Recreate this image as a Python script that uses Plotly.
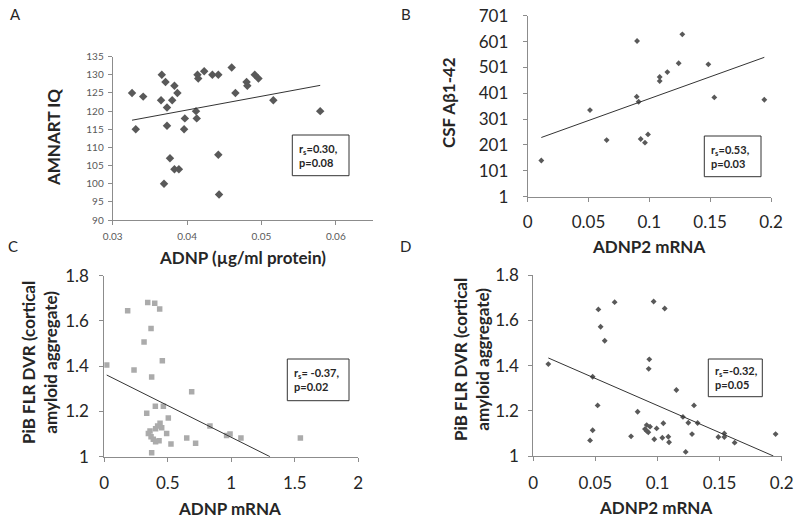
import plotly.graph_objects as go

W, H = 800, 519

# ---- Panel A ----
a_x = [0.0326,0.0331,0.0341,0.0366,0.0365,0.0371,0.0373,0.0373,0.0369,0.0377,0.0380,0.0383,0.0387,0.0383,0.0389,0.0397,0.0396,0.0412,0.0413,0.0414,0.0415,0.0423,0.0434,0.0442,0.0442,0.0443,0.0460,0.0465,0.0480,0.0481,0.0491,0.0496,0.0516,0.0579]
a_y = [125,115,124,130,123,128,121,116,100,107,123,127,125,104,104,118,115,120,118,130,129,131,130,130,108,97,132,125,128,127,130,129,123,120]
a_trend_x = [0.0326, 0.0579]
a_trend_y = [117.5, 127.1]

# ---- Panel B ----
b_x = [0.0112,0.0512,0.0649,0.0899,0.0896,0.0912,0.0929,0.0964,0.0989,0.1085,0.1085,0.1148,0.1241,0.1271,0.1485,0.1534,0.1945]
b_y = [141,336,220,603,388,368,224,210,242,464,448,483,517,629,513,385,376]
b_trend_x = [0.0112, 0.1945]
b_trend_y = [230, 540]

# ---- Panel C ----
c_x = [0.019,0.184,0.234,0.313,0.334,0.342,0.368,0.373,0.397,0.436,0.457,0.402,0.465,0.504,0.688,
       0.439,0.420,0.404,0.360,0.347,0.368,0.386,0.404,0.431,0.491,0.525,0.373,0.452,
       0.649,0.719,0.832,0.963,0.990,1.076,1.544]
c_y = [1.405,1.645,1.383,1.507,1.192,1.681,1.567,1.352,1.678,1.653,1.424,1.223,1.223,1.171,1.287,
       1.148,1.136,1.124,1.114,1.103,1.088,1.077,1.066,1.071,1.103,1.056,1.018,1.128,
       1.083,1.059,1.136,1.094,1.100,1.083,1.083]
c_trend_x = [0.019, 1.305]
c_trend_y = [1.361, 1.0]

# ---- Panel D ----
d_x = [0.0121,0.0478,0.0518,0.0524,0.0542,0.0575,0.0655,0.0478,0.0457,0.0787,0.0840,0.0934,0.0929,0.0969,0.1058,
       0.0913,0.0940,0.0899,0.0913,0.0926,0.0993,0.1047,0.0974,0.1039,0.1087,0.1093,
       0.1152,0.1205,0.1248,0.1227,0.1294,0.1278,0.1323,0.1490,0.1538,0.1538,0.1621,0.1951]
d_y = [1.407,1.351,1.224,1.649,1.572,1.510,1.681,1.114,1.069,1.087,1.196,1.428,1.386,1.684,1.653,
       1.137,1.130,1.119,1.111,1.105,1.122,1.145,1.074,1.081,1.085,1.061,
       1.292,1.173,1.147,1.018,1.224,1.097,1.146,1.084,1.100,1.084,1.059,1.097]
d_trend_x = [0.0121, 0.1933]
d_trend_y = [1.434, 1.0]

a_xticks = [0.03, 0.04, 0.05, 0.06]
a_yticks = [90, 95, 100, 105, 110, 115, 120, 125, 130, 135]
b_xticks = [0, 0.05, 0.1, 0.15, 0.2]
b_yticks = [1, 101, 201, 301, 401, 501, 601, 701]
c_xticks = [0, 0.5, 1, 1.5, 2]
cd_yticks = [1, 1.2, 1.4, 1.6, 1.8]
d_xticks = [0, 0.05, 0.1, 0.15, 0.2]

FONT = "Lato, 'Open Sans', 'DejaVu Sans', sans-serif"
AXC = "#8c8c8c"
TXT = "#262626"


def px(x):
    return x / W


def py(y):
    return 1 - y / H


fig = go.Figure()

fig.add_trace(go.Scatter(x=a_x, y=a_y, mode="markers", xaxis="x", yaxis="y",
                         marker=dict(symbol="diamond", size=6.5, color="#595959")))
fig.add_trace(go.Scatter(x=a_trend_x, y=a_trend_y, mode="lines", xaxis="x", yaxis="y",
                         line=dict(color="#333333", width=1)))
fig.add_trace(go.Scatter(x=b_x, y=b_y, mode="markers", xaxis="x2", yaxis="y2",
                         marker=dict(symbol="diamond", size=4.5, color="#595959")))
fig.add_trace(go.Scatter(x=b_trend_x, y=b_trend_y, mode="lines", xaxis="x2", yaxis="y2",
                         line=dict(color="#333333", width=1)))
fig.add_trace(go.Scatter(x=c_x, y=c_y, mode="markers", xaxis="x3", yaxis="y3",
                         marker=dict(symbol="square", size=5.5, color="#ababab")))
fig.add_trace(go.Scatter(x=c_trend_x, y=c_trend_y, mode="lines", xaxis="x3", yaxis="y3",
                         line=dict(color="#333333", width=1)))
fig.add_trace(go.Scatter(x=d_x, y=d_y, mode="markers", xaxis="x4", yaxis="y4",
                         marker=dict(symbol="diamond", size=4.5, color="#595959")))
fig.add_trace(go.Scatter(x=d_trend_x, y=d_trend_y, mode="lines", xaxis="x4", yaxis="y4",
                         line=dict(color="#333333", width=1)))


def axis(domain, rng, ticks, anchor, size, standoff, color=TXT, fmt=None):
    d = dict(domain=domain, range=rng, tickvals=ticks, anchor=anchor,
             showline=True, linecolor=AXC, linewidth=1, showgrid=False, zeroline=False,
             ticks="outside", ticklen=4, tickcolor=AXC, automargin=False,
             ticklabelstandoff=standoff,
             tickfont=dict(family=FONT, size=size, color=color), fixedrange=True)
    if fmt is not None:
        d["ticktext"] = fmt
    return d


fig.update_layout(
    width=W, height=H, margin=dict(l=0, r=0, t=0, b=0, pad=0, autoexpand=False),
    paper_bgcolor="white", plot_bgcolor="white", showlegend=False,
    xaxis=axis([px(112.7), px(373)], [0.03, 0.065], a_xticks, "y", 10, 3, "#595959",
               ["0.03", "0.04", "0.05", "0.06"]),
    yaxis=axis([py(220), py(56.7)], [90, 135], a_yticks, "x", 10, 2, "#595959"),
    xaxis2=axis([px(527.7), px(771)], [0, 0.2], b_xticks, "y2", 17, 6),
    yaxis2=axis([py(196.7), py(15.7)], [1, 701], b_yticks, "x2", 17, 11),
    xaxis3=axis([px(104.3), px(358.3)], [0, 2], c_xticks, "y3", 17, 7),
    yaxis3=axis([py(456.7), py(275.7)], [1, 1.8], cd_yticks, "x3", 17, 7),
    xaxis4=axis([px(533.3), px(781.7)], [0, 0.2], d_xticks, "y4", 17, 8),
    yaxis4=axis([py(456), py(275.3)], [1, 1.8], cd_yticks, "x4", 17, 6),
)

ann = []


def text(x, y, t, size, bold=False, angle=0, color=TXT):
    ann.append(dict(x=px(x), y=py(y), xref="paper", yref="paper", text=("<b>%s</b>" % t) if bold else t,
                    showarrow=False, textangle=angle, xanchor="center", yanchor="middle",
                    font=dict(family=FONT, size=size, color=color)))


# panel letters
text(15, 14, "A", 15)
text(406, 14, "B", 15)
text(13, 246, "C", 15)
text(406, 246, "D", 15)

# axis titles
text(242, 257, "ADNP (µg/ml protein)", 17, True)
text(53, 138, "AMNART IQ", 17, True, -90)
text(648, 246, "ADNP2 mRNA", 17, True)
text(448, 103, "CSF Aβ1-42", 17, True, -90)
text(230, 508, "ADNP mRNA", 17, True)
text(39, 363, "PiB FLR DVR (cortical<br>amyloid aggregate)", 17, True, -90)
text(655, 507, "ADNP2 mRNA", 17, True)
text(471, 360, "PiB FLR DVR (cortical<br>amyloid aggregate)", 17, True, -90)

# stat boxes
boxes = [
    (292.3, 135, 349, 175.7, "r<sub>s</sub>=0.30,<br>p=0.08"),
    (704.3, 136, 761, 176.7, "r<sub>s</sub>=0.53,<br>p=0.03"),
    (287.3, 359, 349, 400.7, "r<sub>s</sub>= -0.37,<br>p=0.02"),
    (708.3, 359, 762.3, 396.7, "r<sub>s</sub>=-0.32,<br>p=0.05"),
]
shapes = []
for (x0, y0, x1, y1, t) in boxes:
    shapes.append(dict(type="rect", xref="paper", yref="paper", x0=px(x0), x1=px(x1), y0=py(y1), y1=py(y0),
                       line=dict(color="#333333", width=1), fillcolor="white"))
    ann.append(dict(x=px(x0 + 5), y=py((y0 + y1) / 2), xref="paper", yref="paper",
                    text="<b>%s</b>" % t, showarrow=False, xanchor="left", yanchor="middle", align="left",
                    font=dict(family=FONT, size=11, color=TXT)))

fig.update_layout(annotations=ann, shapes=shapes)
fig.write_html("out.html", config={"displayModeBar": False},
               post_script="document.body.style.margin='0';document.body.style.overflow='hidden';")
